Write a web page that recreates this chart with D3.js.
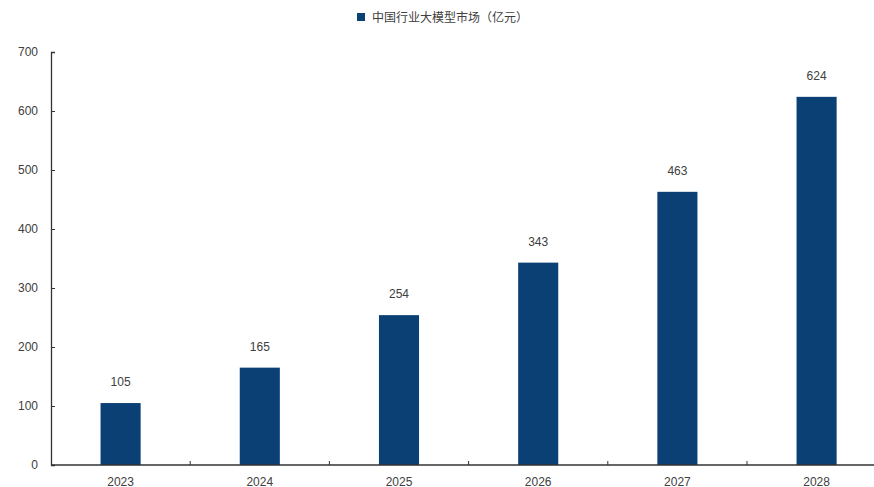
<!DOCTYPE html>
<html>
<head>
<meta charset="utf-8">
<script src="https://cdn.jsdelivr.net/npm/d3@7"></script>
<style>
  html, body { margin: 0; padding: 0; background: #ffffff; }
  svg { display: block; }
</style>
</head>
<body>
<svg id="chart" width="874" height="487"></svg>
<script>
// China industry LLM market size (100 million CNY)
const years = ["2023", "2024", "2025", "2026", "2027", "2028"];
const marketSize = [105, 165, 254, 343, 463, 624];
const yTicks = [0, 100, 200, 300, 400, 500, 600, 700];
const seriesName = "中国行业大模型市场（亿元）";

const barColor = "#0b4074";
const textColor = "#404040";
const svg = d3.select("#chart");

const plot = { left: 51, top: 52, bottom: 465, step: 139.2 };

const x = d3.scaleBand()
  .domain(years)
  .range([plot.left, plot.left + plot.step * years.length])
  .paddingInner(0.712)
  .paddingOuter(0.356);

const y = d3.scaleLinear().domain([0, 700]).range([plot.bottom, plot.top]);

// Bars
svg.append("g").selectAll("rect")
  .data(years)
  .join("rect")
  .attr("x", d => x(d))
  .attr("y", (d, i) => y(marketSize[i]))
  .attr("width", x.bandwidth())
  .attr("height", (d, i) => y(0) - y(marketSize[i]))
  .attr("fill", barColor);

// Value labels
svg.append("g").selectAll("text")
  .data(years)
  .join("text")
  .attr("x", d => x(d) + x.bandwidth() / 2)
  .attr("y", (d, i) => y(marketSize[i]) - 17)
  .attr("text-anchor", "middle")
  .attr("font-family", "Liberation Sans, Arial, sans-serif")
  .attr("font-size", 12)
  .attr("fill", textColor)
  .text((d, i) => marketSize[i]);

// Y axis
const yAxis = svg.append("g")
  .attr("transform", `translate(${plot.left},0)`)
  .call(d3.axisLeft(y).tickValues(yTicks).tickSize(-4).tickPadding(13));
yAxis.select(".domain").attr("stroke", "#333").attr("stroke-width", 1.3);
yAxis.selectAll(".tick line").attr("stroke", "#333");
yAxis.selectAll(".tick text")
  .attr("font-family", "Liberation Sans, Arial, sans-serif")
  .attr("font-size", 12)
  .attr("fill", textColor);

// X axis: ticks sit between categories
const xAxis = svg.append("g").attr("transform", `translate(0,${plot.bottom})`);
xAxis.append("line")
  .attr("x1", plot.left).attr("x2", 874)
  .attr("stroke", "#333").attr("stroke-width", 1.3);
xAxis.selectAll("line.sep")
  .data(years.slice(1))
  .join("line")
  .attr("class", "sep")
  .attr("x1", d => x(d) - x.step() * x.paddingInner() / 2)
  .attr("x2", d => x(d) - x.step() * x.paddingInner() / 2)
  .attr("y1", -4).attr("y2", 0)
  .attr("stroke", "#333");
xAxis.selectAll("text")
  .data(years)
  .join("text")
  .attr("x", d => x(d) + x.bandwidth() / 2)
  .attr("y", 20.5)
  .attr("text-anchor", "middle")
  .attr("font-family", "Liberation Sans, Arial, sans-serif")
  .attr("font-size", 12)
  .attr("fill", textColor)
  .text(d => d);

// Legend
const legend = svg.append("g").attr("transform", "translate(357,13)");
legend.append("rect").attr("width", 8).attr("height", 8).attr("fill", barColor);
legend.append("text")
  .attr("x", 15).attr("y", 8.5)
  .attr("font-family", "Noto Sans CJK SC, sans-serif")
  .attr("font-size", 12)
  .attr("fill", textColor)
  .text(seriesName);
</script>
</body>
</html>
